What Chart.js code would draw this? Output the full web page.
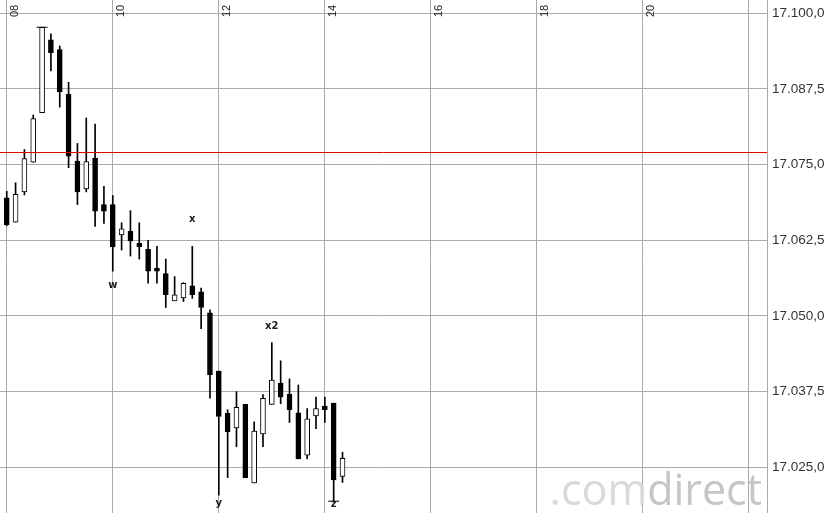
<!DOCTYPE html>
<html>
<head>
<meta charset="utf-8">
<script src="https://cdn.jsdelivr.net/npm/chart.js@4.4.1/dist/chart.umd.min.js"></script>
<style>
  html, body { margin: 0; padding: 0; background: #ffffff; }
  #wrap { width: 840px; height: 513px; }
</style>
</head>
<body>
<div id="wrap"><canvas id="c" width="840" height="513"></canvas></div>
<script>
// ---- data (10-minute candles starting 08:00) ----
const times = [8.0000, 8.1667, 8.3333, 8.5000, 8.6667, 8.8333, 9.0000, 9.1667, 9.3333, 9.5000,
               9.6667, 9.8333, 10.0000, 10.1667, 10.3333, 10.5000, 10.6667, 10.8333, 11.0000, 11.1667,
               11.3333, 11.5000, 11.6667, 11.8333, 12.0000, 12.1667, 12.3333, 12.5000, 12.6667, 12.8333,
               13.0000, 13.1667, 13.3333, 13.5000, 13.6667, 13.8333, 14.0000, 14.1667, 14.3333];
const openVals  = [17069.5, 17065.5, 17070.5, 17075.4, 17083.6, 17095.6, 17094.0, 17086.6, 17075.6, 17071.0,
                   17076.1, 17068.4, 17068.4, 17063.4, 17064.0, 17062.0, 17061.0, 17057.9, 17057.0, 17052.5,
                   17053.0, 17055.0, 17054.0, 17050.5, 17040.9, 17033.9, 17031.5, 17035.4, 17022.4, 17030.5,
                   17035.4, 17038.9, 17037.1, 17034.0, 17027.0, 17033.5, 17035.1, 17035.6, 17023.5];
const highVals  = [17070.6, 17072.0, 17077.5, 17083.2, 17097.7, 17096.6, 17094.6, 17088.6, 17078.5, 17082.7,
                   17081.7, 17071.4, 17069.9, 17065.4, 17067.4, 17065.4, 17062.5, 17061.5, 17059.4, 17056.5,
                   17055.5, 17061.5, 17054.6, 17051.0, 17040.9, 17034.5, 17037.5, 17035.4, 17032.5, 17037.0,
                   17045.6, 17042.6, 17039.6, 17038.6, 17034.7, 17036.6, 17036.6, 17035.6, 17027.5];
const lowVals   = [17064.9, 17065.5, 17070.0, 17075.4, 17083.6, 17090.5, 17084.5, 17074.5, 17068.4, 17070.5,
                   17064.8, 17065.3, 17057.4, 17060.9, 17059.9, 17059.4, 17055.4, 17055.4, 17051.4, 17052.5,
                   17052.4, 17052.9, 17047.9, 17036.4, 17020.4, 17023.3, 17028.4, 17023.3, 17022.4, 17028.4,
                   17035.4, 17035.5, 17032.4, 17026.4, 17026.4, 17031.4, 17032.4, 17019.4, 17022.5];
const closeVals = [17065.1, 17070.1, 17076.0, 17082.6, 17097.7, 17093.5, 17087.0, 17076.4, 17070.5, 17075.5,
                   17067.3, 17067.3, 17061.4, 17064.4, 17062.4, 17061.4, 17057.4, 17057.4, 17053.5, 17053.5,
                   17055.4, 17053.5, 17051.4, 17040.3, 17033.4, 17030.9, 17034.9, 17023.3, 17031.0, 17036.4,
                   17039.4, 17036.6, 17034.5, 17026.4, 17033.0, 17034.7, 17034.5, 17022.9, 17026.5];

const refLevel = 17077.0;                       // red horizontal line
const extremeIdx = [4, 37];                     // day high / day low markers
const extremeVals = [17097.7, 17019.4];

const waveLabels = ['w', 'x', 'x2', 'y', 'z'];
const waveIdx    = [12, 21, 30, 24, 37];
const waveVals   = [17055.1, 17066.0, 17048.3, 17019.1, 17018.9];

const xTickValues = [8, 10, 12, 14, 16, 18, 20, 22];
const xTickLabels = ['08', '10', '12', '14', '16', '18', '20', ''];
const yTickValues = [17025, 17037.5, 17050, 17062.5, 17075, 17087.5, 17100];

const xMin = 7.873, xMax = 22.34;
const yMin = 17017.45, yMax = 17102.2;

function fmtPrice(v) {
  const s = v.toFixed(1);
  const parts = s.split('.');
  return parts[0].replace(/\B(?=(\d{3})+(?!\d))/g, '.') + ',' + parts[1];
}

const gridColor = '#aaaaaa';

const overlay = {
  id: 'overlay',
  beforeDatasetsDraw(chart) {
    const ctx = chart.ctx;
    const area = chart.chartArea;
    const xs = chart.scales.x;
    // watermark
    ctx.save();
    ctx.font = '500 43px "Open Sans"';
    ctx.textBaseline = 'alphabetic';
    ctx.textAlign = 'left';
    const w1 = ctx.measureText('.com').width;
    const w2 = ctx.measureText('direct').width;
    const x0 = area.right - 5 - w1 - w2;
    const by = area.bottom - 8;
    ctx.fillStyle = '#d9d9d9';
    ctx.fillText('.com', x0, by);
    ctx.fillStyle = '#c6c6c6';
    ctx.fillText('direct', x0 + w1, by);
    ctx.restore();
    // x labels (rotated, inside the plot at the top)
    ctx.save();
    ctx.font = '11px "Liberation Sans"';
    ctx.fillStyle = '#222222';
    ctx.textAlign = 'left';
    ctx.textBaseline = 'top';
    xTickValues.forEach((v, i) => {
      if (!xTickLabels[i]) return;
      const px = xs.getPixelForValue(v);
      ctx.save();
      ctx.translate(px + 2.5, area.top + 17);
      ctx.rotate(-Math.PI / 2);
      ctx.fillText(xTickLabels[i], 0, 0);
      ctx.restore();
    });
    ctx.restore();
  },
  afterDraw(chart) {
    const ctx = chart.ctx;
    const xs = chart.scales.x, ys = chart.scales.y;
    ctx.save();
    ctx.font = 'bold 10px "DejaVu Sans"';
    ctx.fillStyle = '#1a1a1a';
    ctx.textAlign = 'center';
    ctx.textBaseline = 'middle';
    waveLabels.forEach((t, i) => {
      const px = xs.getPixelForValue(times[waveIdx[i]]);
      const py = ys.getPixelForValue(waveVals[i]);
      ctx.fillText(t, px, py);
    });
    ctx.restore();
  }
};

new Chart(document.getElementById('c'), {
  data: {
    datasets: [
      {
        type: 'line',
        data: [{ x: xMin, y: refLevel }, { x: xMax, y: refLevel }],
        borderColor: '#e00000',
        borderWidth: 1,
        pointRadius: 0,
        order: 0
      },
      {
        type: 'scatter',
        data: extremeIdx.map((k, i) => ({ x: times[k], y: extremeVals[i] })),
        pointStyle: 'line',
        pointRadius: 5.5,
        borderColor: '#000000',
        borderWidth: 1,
        order: 0
      },
      {
        type: 'bar',
        data: times.map((t, i) => ({ x: t, y: [openVals[i], closeVals[i]] })),
        backgroundColor: times.map((t, i) => closeVals[i] >= openVals[i] ? '#ffffff' : '#000000'),
        borderColor: '#000000',
        borderWidth: 1,
        borderSkipped: false,
        barThickness: 5,
        grouped: false,
        order: 1
      },
      {
        type: 'bar',
        data: times.map((t, i) => ({ x: t, y: [lowVals[i], highVals[i]] })),
        backgroundColor: '#000000',
        borderWidth: 0,
        barThickness: 1,
        grouped: false,
        order: 2
      }
    ]
  },
  options: {
    responsive: false,
    animation: false,
    layout: { padding: 0, autoPadding: false },
    plugins: { legend: { display: false }, tooltip: { enabled: false } },
    scales: {
      x: {
        type: 'linear',
        min: xMin,
        max: xMax,
        offset: false,
        grid: { color: gridColor, lineWidth: 1, drawTicks: false, offset: false },
        border: { display: false },
        ticks: { display: false },
        afterBuildTicks(s) { s.ticks = xTickValues.map(v => ({ value: v })); },
        afterFit(s) { s.height = 0; s.paddingLeft = 0; s.paddingRight = 0; }
      },
      y: {
        type: 'linear',
        position: 'right',
        min: yMin,
        max: yMax,
        grid: { color: gridColor, lineWidth: 1, drawTicks: false },
        border: { display: true, color: gridColor, width: 1 },
        ticks: {
          padding: 5,
          color: '#333333',
          font: { family: '"Liberation Sans"', size: 13.5 },
          callback: (v) => fmtPrice(v)
        },
        afterBuildTicks(s) { s.ticks = yTickValues.map(v => ({ value: v })); },
        afterFit(s) { s.width = 73; s.paddingTop = 0; s.paddingBottom = 0; }
      }
    }
  },
  plugins: [overlay]
});
</script>
</body>
</html>
